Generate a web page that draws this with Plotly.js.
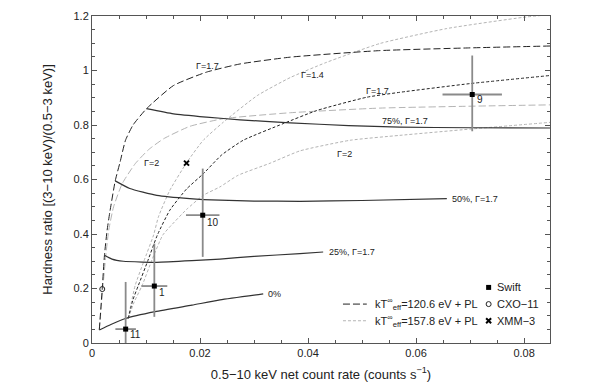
<!DOCTYPE html>
<html>
<head>
<meta charset="utf-8">
<script src="https://cdn.plot.ly/plotly-3.0.1.min.js"></script>
<style>
  html, body { margin: 0; padding: 0; background: #fff; }
  #plot { width: 589px; height: 391px; }
</style>
</head>
<body>
<div id="plot"></div>
<script>
// kT=120.6 eV + PL tracks
const bb120G17X = [0.00135, 0.0019, 0.0023, 0.0028, 0.0033, 0.0043, 0.0052, 0.0062, 0.0076, 0.0101, 0.0151, 0.0212, 0.0274, 0.0367, 0.0533, 0.070, 0.085];
const bb120G17Y = [0.048, 0.2, 0.32, 0.414, 0.48, 0.595, 0.664, 0.744, 0.80, 0.86, 0.945, 0.994, 1.024, 1.049, 1.073, 1.083, 1.09];
const bb120G2X = [0.00135, 0.002, 0.0025, 0.0031, 0.004, 0.0056, 0.008, 0.0105, 0.0133, 0.0181, 0.0243, 0.0367, 0.0533, 0.085];
const bb120G2Y = [0.048, 0.2, 0.31, 0.414, 0.5, 0.585, 0.658, 0.71, 0.75, 0.795, 0.823, 0.845, 0.862, 0.874];

// kT=157.8 eV + PL tracks
const bb157G17X = [0.0067, 0.0076, 0.0086, 0.0103, 0.0121, 0.0144, 0.0175, 0.0206, 0.024, 0.028, 0.0354, 0.0416, 0.0509, 0.057, 0.07, 0.085];
const bb157G17Y = [0.09, 0.16, 0.212, 0.30, 0.396, 0.487, 0.565, 0.621, 0.69, 0.744, 0.805, 0.853, 0.902, 0.92, 0.952, 0.982];
const bb157G14X = [0.0067, 0.0073, 0.008, 0.0096, 0.0114, 0.0123, 0.0144, 0.0176, 0.0206, 0.0243, 0.0306, 0.0367, 0.0433, 0.0533, 0.0657, 0.0798, 0.0848];
const bb157G14Y = [0.09, 0.15, 0.212, 0.30, 0.396, 0.463, 0.56, 0.664, 0.744, 0.81, 0.908, 0.974, 1.029, 1.099, 1.154, 1.195, 1.205];
const bb157G2X = [0.0067, 0.0078, 0.0093, 0.0112, 0.0131, 0.0144, 0.0175, 0.0206, 0.0237, 0.0270, 0.033, 0.0385, 0.0478, 0.057, 0.07, 0.085];
const bb157G2Y = [0.09, 0.15, 0.212, 0.31, 0.396, 0.426, 0.49, 0.542, 0.573, 0.615, 0.66, 0.705, 0.744, 0.762, 0.785, 0.81];

// constant PL fraction lines (Gamma=1.7)
const pl0X = [0.00135, 0.0035, 0.0062, 0.0117, 0.0185, 0.0237, 0.0317];
const pl0Y = [0.048, 0.068, 0.09, 0.115, 0.139, 0.158, 0.18];
const pl25X = [0.0023, 0.0037, 0.0058, 0.0093, 0.012, 0.0185, 0.0237, 0.030, 0.0385, 0.0428];
const pl25Y = [0.322, 0.308, 0.300, 0.297, 0.296, 0.302, 0.308, 0.318, 0.328, 0.334];
const pl50X = [0.0043, 0.007, 0.012, 0.0181, 0.0237, 0.030, 0.0385, 0.050, 0.0657];
const pl50Y = [0.595, 0.567, 0.542, 0.53, 0.524, 0.521, 0.52, 0.523, 0.53];
const pl75X = [0.0101, 0.0151, 0.0212, 0.0274, 0.0367, 0.0475, 0.057, 0.070, 0.085];
const pl75Y = [0.86, 0.841, 0.829, 0.819, 0.808, 0.798, 0.792, 0.79, 0.789];

// observations
const swiftNames = ['11', '1', '10', '9'];
const swiftX = [0.00623, 0.01154, 0.0205, 0.0704];
const swiftY = [0.051, 0.209, 0.469, 0.912];
const swiftXErr = [0.0019, 0.0024, 0.0031, 0.0055];
const swiftYErrUp = [0.173, 0.156, 0.171, 0.143];
const swiftYErrDown = [0.06, 0.113, 0.153, 0.135];
const cxoX = [0.0019];
const cxoY = [0.198];
const xmmX = [0.0175];
const xmmY = [0.66];

const black = '#222';
const grey = '#b4b4b4';
const txtFont = {family: 'Liberation Sans, Arial, sans-serif', size: 9, color: '#222'};

function curve(x, y, color, dash, width) {
	return {
		x: x, y: y, type: 'scatter', mode: 'lines', hoverinfo: 'skip',
		line: {color: color, dash: dash, width: width || 1, shape: 'spline', smoothing: 0.5}
	};
}

const traces = [
	curve(bb120G2X, bb120G2Y, grey, '7px,3px'),
	curve(bb157G14X, bb157G14Y, grey, '3px,2px'),
	curve(bb157G2X, bb157G2Y, grey, '3px,2px'),
	curve(bb120G17X, bb120G17Y, black, '7px,3px'),
	curve(bb157G17X, bb157G17Y, black, '3px,2px'),
	curve(pl0X, pl0Y, '#333', 'solid', 1.2),
	curve(pl25X, pl25Y, '#333', 'solid', 1.2),
	curve(pl50X, pl50Y, '#333', 'solid', 1.2),
	curve(pl75X, pl75Y, '#333', 'solid', 1.2),
	{
		x: swiftX, y: swiftY, type: 'scatter', mode: 'markers', hoverinfo: 'skip',
		marker: {symbol: 'square', size: 5, color: '#000'},
		error_x: {type: 'data', array: swiftXErr, color: '#8a8a8a', thickness: 1.8, width: 0},
		error_y: {type: 'data', symmetric: false, array: swiftYErrUp, arrayminus: swiftYErrDown, color: '#8a8a8a', thickness: 1.8, width: 0}
	},
	{
		x: cxoX, y: cxoY, type: 'scatter', mode: 'markers', hoverinfo: 'skip',
		marker: {symbol: 'circle-open', size: 5, color: '#222', line: {width: 1}}
	},
	{
		x: xmmX, y: xmmY, type: 'scatter', mode: 'markers', hoverinfo: 'skip',
		marker: {symbol: 'x-thin-open', size: 5, color: '#000', line: {width: 2}}
	},
	// legend samples on a hidden 0..1 overlay
	{
		x: [0.548, 0.600], y: [0.119, 0.119], xaxis: 'x2', yaxis: 'y2', type: 'scatter', mode: 'lines', hoverinfo: 'skip',
		line: {color: black, dash: '7px,3px', width: 1}
	},
	{
		x: [0.548, 0.600], y: [0.068, 0.068], xaxis: 'x2', yaxis: 'y2', type: 'scatter', mode: 'lines', hoverinfo: 'skip',
		line: {color: grey, dash: '3px,2px', width: 1}
	},
	{
		x: [0.866], y: [0.170], xaxis: 'x2', yaxis: 'y2', type: 'scatter', mode: 'markers', hoverinfo: 'skip',
		marker: {symbol: 'square', size: 5, color: '#000'}
	},
	{
		x: [0.866], y: [0.119], xaxis: 'x2', yaxis: 'y2', type: 'scatter', mode: 'markers', hoverinfo: 'skip',
		marker: {symbol: 'circle-open', size: 5, color: '#222', line: {width: 1}}
	},
	{
		x: [0.866], y: [0.068], xaxis: 'x2', yaxis: 'y2', type: 'scatter', mode: 'markers', hoverinfo: 'skip',
		marker: {symbol: 'x-thin-open', size: 5, color: '#000', line: {width: 2}}
	}
];

function label(x, y, text, anchor) {
	return {x: x, y: y, text: text, showarrow: false, xanchor: anchor || 'center', yanchor: 'middle', font: txtFont};
}

const annotations = [
	label(0.0213, 1.018, 'Γ=1.7'),
	label(0.0408, 0.982, 'Γ=1.4'),
	label(0.0529, 0.924, 'Γ=1.7'),
	label(0.058, 0.815, '75%, Γ=1.7'),
	label(0.0467, 0.692, 'Γ=2'),
	label(0.0111, 0.66, 'Γ=2'),
	label(0.0663, 0.53, '50%, Γ=1.7', 'left'),
	label(0.0436, 0.334, '25%, Γ=1.7', 'left'),
	label(0.0323, 0.18, '0%', 'left')
];
const nameOffsetY = [0.019, 0.025, 0.025, 0.018];
swiftNames.forEach((n, i) => {
	annotations.push({
		x: swiftX[i] + 0.0005, y: swiftY[i] - nameOffsetY[i], text: n, showarrow: false,
		xanchor: 'left', yanchor: 'middle', font: {family: txtFont.family, size: 10, color: '#222'}
	});
});
const legFont = {family: 'Liberation Sans, Arial, sans-serif', size: 11, color: '#222'};
[
	[0.6135, 0.119, 'kT<sup>∞</sup><sub>eff</sub>=120.6 eV + PL'],
	[0.6135, 0.068, 'kT<sup>∞</sup><sub>eff</sub>=157.8 eV + PL'],
	[0.880, 0.170, 'Swift'],
	[0.880, 0.119, 'CXO−11'],
	[0.880, 0.068, 'XMM−3']
].forEach(([x, y, t]) => {
	annotations.push({xref: 'paper', yref: 'paper', x: x, y: y, text: t, showarrow: false, xanchor: 'left', yanchor: 'middle', font: legFont});
});

const axisColor = '#555';
const layout = {
	width: 589,
	height: 391,
	margin: {l: 92, r: 39, t: 16, b: 48},
	paper_bgcolor: '#fff',
	plot_bgcolor: '#fff',
	showlegend: false,
	font: {family: 'Liberation Sans, Arial, sans-serif', size: 11, color: '#222'},
	xaxis: {
		range: [0, 0.0848],
		tickvals: [0, 0.02, 0.04, 0.06, 0.08],
		ticktext: ['0', '0.02', '0.04', '0.06', '0.08'],
		ticks: 'inside', ticklen: 5, tickcolor: axisColor,
		minor: {ticks: 'inside', dtick: 0.005, tick0: 0, ticklen: 3, tickcolor: axisColor},
		showline: true, linecolor: axisColor, linewidth: 1, mirror: 'allticks',
		showgrid: false, zeroline: false,
		title: {text: '0.5−10 keV net count rate (counts s<sup>−1</sup>)', font: {size: 13}, standoff: 11}
	},
	yaxis: {
		range: [0, 1.2],
		tickvals: [0, 0.2, 0.4, 0.6, 0.8, 1, 1.2],
		ticktext: ['0', '0.2', '0.4', '0.6', '0.8', '1', '1.2'],
		ticks: 'inside', ticklen: 5, tickcolor: axisColor,
		minor: {ticks: 'inside', dtick: 0.05, tick0: 0, ticklen: 3, tickcolor: axisColor},
		showline: true, linecolor: axisColor, linewidth: 1, mirror: 'allticks',
		showgrid: false, zeroline: false,
		title: {text: 'Hardness ratio [(3−10 keV)/(0.5−3 keV)]', font: {size: 13}, standoff: 17}
	},
	xaxis2: {overlaying: 'x', range: [0, 1], visible: false, fixedrange: true},
	yaxis2: {overlaying: 'y', range: [0, 1], visible: false, fixedrange: true},
	annotations: annotations
};

Plotly.newPlot('plot', traces, layout, {displayModeBar: false, staticPlot: true});
</script>
</body>
</html>
